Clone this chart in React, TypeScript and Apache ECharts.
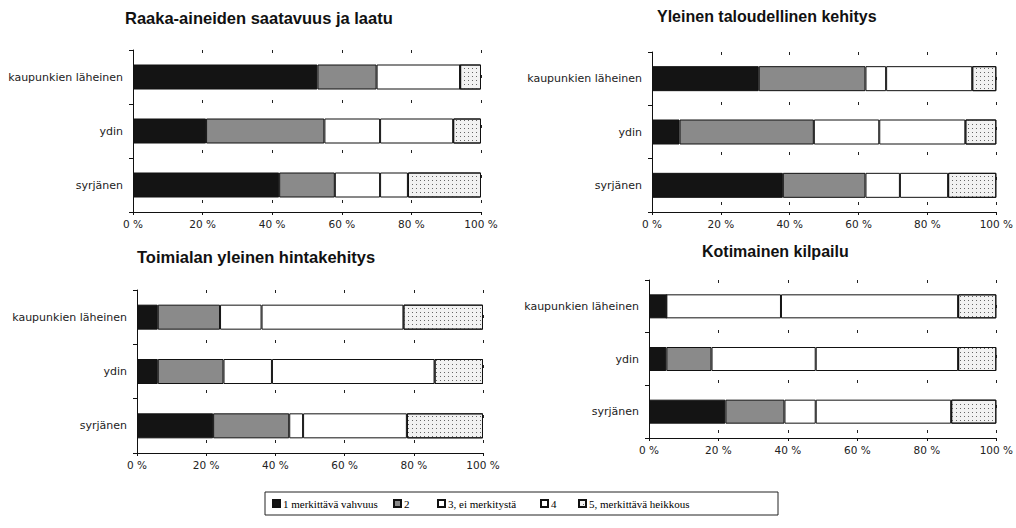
import React, { useEffect, useRef } from "react";
import * as echarts from "echarts";

// Categories (top to bottom) and response levels
const categories = ["kaupunkien läheinen", "ydin", "syrjänen"];
const levels = ["1 merkittävä vahvuus", "2", "3, ei merkitystä", "4", "5, merkittävä heikkous"];
const xTicks = [0, 20, 40, 60, 80, 100];

// Panel titles
const titles = [
  "Raaka-aineiden saatavuus ja laatu",
  "Yleinen taloudellinen kehitys",
  "Toimialan yleinen hintakehitys",
  "Kotimainen kilpailu",
];

// Percent shares per category, levels 1..5
const raakaKaupunki = [53, 17, 24, 0, 6];
const raakaYdin = [21, 34, 16, 21, 8];
const raakaSyrja = [42, 16, 13, 8, 21];

const talousKaupunki = [31, 31, 6, 25, 7];
const talousYdin = [8, 39, 19, 25, 9];
const talousSyrja = [38, 24, 10, 14, 14];

const hintaKaupunki = [6, 18, 12, 41, 23];
const hintaYdin = [6, 19, 14, 47, 14];
const hintaSyrja = [22, 22, 4, 30, 22];

const kilpailuKaupunki = [5, 0, 33, 51, 11];
const kilpailuYdin = [5, 13, 30, 41, 11];
const kilpailuSyrja = [22, 17, 9, 39, 13];

const panels = [
  [raakaKaupunki, raakaYdin, raakaSyrja],
  [talousKaupunki, talousYdin, talousSyrja],
  [hintaKaupunki, hintaYdin, hintaSyrja],
  [kilpailuKaupunki, kilpailuYdin, kilpailuSyrja],
];

const grids = [
  { left: 133, right: 535, top: 50, bottom: 316 },
  { left: 652, right: 18, top: 52, bottom: 316 },
  { left: 137, right: 533, top: 290, bottom: 75 },
  { left: 649, right: 17, top: 280, bottom: 90 },
];
const titlePos = [
  { left: 125, top: 9, size: 16.5 },
  { left: 657, top: 8, size: 16 },
  { left: 137, top: 248, size: 16.5 },
  { left: 702, top: 243, size: 16 },
];
const legendLeft = [272, 393, 437, 540, 578];

const dotDecal = {
  symbol: "rect",
  symbolSize: 1,
  dashArrayX: [1, 3],
  dashArrayY: [1, 3],
  color: "#666",
  backgroundColor: "#f6f6f6",
};

const levelStyles: any[] = [
  { color: "#141414" },
  { color: "#8a8a8a" },
  { color: "#ffffff" },
  { color: "#ffffff" },
  { color: "#f2f2f2", decal: dotDecal },
];

export default function App() {
  const ref = useRef<HTMLDivElement>(null);

  useEffect(() => {
    if (!ref.current) return;
    const chart = echarts.init(ref.current, null, { renderer: "svg" });

    const axisFont = { fontFamily: "DejaVu Sans", fontSize: 11, color: "#222" };

    const series: any[] = [];
    panels.forEach((panel, p) => {
      levels.forEach((lv, k) => {
        series.push({
          type: "bar",
          name: lv,
          stack: "s" + p,
          xAxisIndex: p,
          yAxisIndex: p,
          barWidth: p === 3 ? 24 : 25,
          data: panel.map((row) => row[k]),
          itemStyle: { ...levelStyles[k], borderColor: "#111", borderWidth: 1 },
          emphasis: { disabled: true },
        });
      });
    });

    const option: any = {
      animation: false,
      backgroundColor: "#ffffff",
      title: titles.map((t, i) => ({
        text: t,
        left: titlePos[i].left,
        top: titlePos[i].top,
        padding: 0,
        textStyle: {
          fontFamily: "Liberation Sans",
          fontWeight: "bold",
          fontSize: titlePos[i].size,
          color: "#111",
        },
      })),
      grid: grids.map((g) => ({ ...g, containLabel: false })),
      xAxis: grids.map((_, i) => ({
        type: "value",
        gridIndex: i,
        min: xTicks[0],
        max: xTicks[xTicks.length - 1],
        interval: 20,
        axisLine: { show: true, lineStyle: { color: "#111", width: 1 } },
        axisTick: { show: true, length: 3, lineStyle: { color: "#111" } },
        axisLabel: { ...axisFont, fontSize: 10.5, margin: 6, formatter: "{value} %" },
        splitLine: { show: true, lineStyle: { color: "#222", type: [3, 22], width: 1 } },
      })),
      yAxis: grids.map((_, i) => ({
        type: "category",
        gridIndex: i,
        inverse: true,
        data: categories,
        axisLine: { show: true, lineStyle: { color: "#111", width: 1 } },
        axisTick: { show: true, length: 4, lineStyle: { color: "#111" } },
        axisLabel: { ...axisFont, margin: 10 },
        splitLine: { show: false },
      })),
      legend: levels.map((lv, i) => ({
        data: [lv],
        left: legendLeft[i],
        top: 498,
        padding: 0,
        itemWidth: 7,
        itemHeight: 7,
        itemGap: 0,
        icon: "rect",
        selectedMode: false,
        textStyle: { fontFamily: "Liberation Serif", fontSize: 11, color: "#000", padding: [0, 0, 0, -2] },
      })),
      graphic: [
        {
          type: "rect",
          shape: { x: 265, y: 492, width: 513, height: 23 },
          style: { fill: "none", stroke: "#222", lineWidth: 1 },
          silent: true,
        },
      ],
      series,
    };

    chart.setOption(option);
    return () => chart.dispose();
  }, []);

  return (
    <div
      ref={ref}
      style={{ position: "fixed", left: 0, top: 0, width: 1016, height: 528 }}
    />
  );
}
